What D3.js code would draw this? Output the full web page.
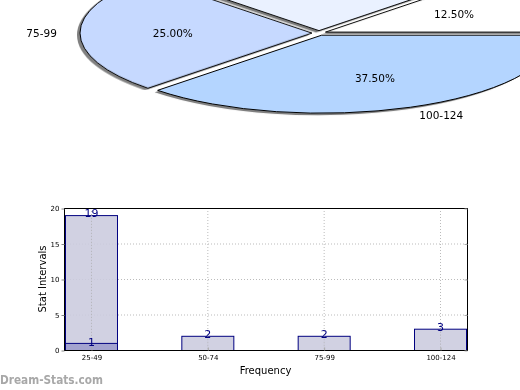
<!DOCTYPE html>
<html>
<head>
<meta charset="utf-8">
<script src="https://cdn.jsdelivr.net/npm/d3@7"></script>
<style>
html,body{margin:0;padding:0;background:#fff;}
svg{display:block;font-family:"DejaVu Sans",sans-serif;}
</style>
</head>
<body>
<svg id="chart" width="520" height="390"></svg>
<script>
// ---- data ----
const categories = ["25-49", "50-74", "75-99", "100-124"];
const pieValues = [1, 2, 2, 3];
const pieColors = ["#ffffff", "#eaf1ff", "#c6d9ff", "#b4d5ff"];
const barValues = [19, 2, 2, 3];
const overlayValues = [1, null, null, null];
const yTicks = [0, 5, 10, 15, 20];
const xTitle = "Frequency";
const yTitle = "Stat Intervals";
const watermark = "Dream-Stats.com";

const svg = d3.select("#chart");

// ---- pie (elliptical, exploded) ----
const cx = 319, cy = 33, rx = 232, ry = 78, explode = 7;
const pie = d3.pie().sort(null).startAngle(Math.PI / 2).endAngle(Math.PI / 2 - 2 * Math.PI);
const arcs = pie(pieValues);
const arc = d3.arc().innerRadius(0).outerRadius(rx);
const total = d3.sum(pieValues);

const defs = svg.append("defs");
defs.append("filter").attr("id", "blur").append("feGaussianBlur").attr("stdDeviation", 0.6);

function sliceOffset(d) {
  const m = (d.startAngle + d.endAngle) / 2;
  return [explode * Math.sin(m), -explode * Math.cos(m)];
}

// shadows
const shadowG = svg.append("g")
  .attr("transform", `translate(${cx - 3},${cy + 2}) scale(1,${ry / rx})`)
  .attr("filter", "url(#blur)");
shadowG.selectAll("path").data(arcs).join("path")
  .attr("transform", d => `translate(${sliceOffset(d)})`)
  .attr("d", arc)
  .attr("fill", "#808080");

const pieG = svg.append("g")
  .attr("transform", `translate(${cx},${cy}) scale(1,${ry / rx})`);
pieG.selectAll("path").data(arcs).join("path")
  .attr("transform", d => `translate(${sliceOffset(d)})`)
  .attr("d", arc)
  .attr("fill", (d, i) => pieColors[i])
  .attr("stroke", "#000")
  .attr("stroke-width", 1)
  .attr("vector-effect", "non-scaling-stroke");

// labels (those falling above the visible area are not drawn, as in the source)
const labG = svg.append("g").attr("font-size", 10.5).attr("fill", "#000");
arcs.forEach((d, i) => {
  const m = (d.startAngle + d.endAngle) / 2;
  const s = Math.sin(m), c = Math.cos(m);
  const [ox, oy] = sliceOffset(d);
  const oyS = oy * ry / rx;
  const px = cx + ox + 0.6 * rx * s, py = cy + oyS - 0.6 * ry * c;
  if (py > 6) {
    labG.append("text")
      .attr("x", px).attr("y", py)
      .attr("text-anchor", "middle")
      .attr("dominant-baseline", "central")
      .text((100 * d.value / total).toFixed(2) + "%");
  }
  const lx = cx + 1.13 * rx * s, ly = cy - 1.14 * ry * c;
  if (ly > 6) {
    labG.append("text")
      .attr("x", lx).attr("y", ly)
      .attr("text-anchor", s >= 0 ? "start" : "end")
      .attr("dominant-baseline", "central")
      .text(categories[i]);
  }
});

// ---- bar chart ----
const L = 64, R = 467, T = 208, B = 350;
const x = d3.scalePoint().domain(categories).range([L, R]).padding(0.232);
const y = d3.scaleLinear().domain([0, 20]).range([B, T]);
const bw = 52;

const gridG = svg.append("g").attr("stroke", "#bbbbbb").attr("stroke-dasharray", "1,2").attr("stroke-width", 1);
yTicks.forEach(t => gridG.append("line").attr("x1", L).attr("x2", R).attr("y1", y(t) + 0.5).attr("y2", y(t) + 0.5));
categories.forEach(c => gridG.append("line").attr("x1", x(c) + 0.5).attr("x2", x(c) + 0.5).attr("y1", T).attr("y2", B));

const barG = svg.append("g");
barG.selectAll("rect.main").data(barValues).join("rect")
  .attr("class", "main")
  .attr("x", (d, i) => x(categories[i]) - bw / 2 + 0.5)
  .attr("y", d => y(d) + 0.5)
  .attr("width", bw)
  .attr("height", d => y(0) - y(d))
  .attr("fill", "#ccccdf").attr("fill-opacity", 0.9)
  .attr("stroke", "#000080").attr("stroke-width", 1);
const ov = overlayValues.map((v, i) => ({v, i})).filter(d => d.v != null);
barG.selectAll("rect.ov").data(ov).join("rect")
  .attr("class", "ov")
  .attr("x", d => x(categories[d.i]) - bw / 2 + 0.5)
  .attr("y", d => y(d.v) + 0.5)
  .attr("width", bw)
  .attr("height", d => y(0) - y(d.v))
  .attr("fill", "#a3a3cf")
  .attr("stroke", "#000080").attr("stroke-width", 1);

const gridG2 = svg.append("g").attr("stroke", "#aaaaaa").attr("stroke-dasharray", "1,2").attr("stroke-opacity", 0.7);
categories.forEach((c, i) => gridG2.append("line").attr("x1", x(c) + 0.5).attr("x2", x(c) + 0.5).attr("y1", y(barValues[i])).attr("y2", B));

const valG = svg.append("g").attr("font-size", 11).attr("fill", "#000080").attr("text-anchor", "middle");
barValues.forEach((v, i) => valG.append("text").attr("x", x(categories[i]) + 0.5).attr("y", y(v) + 2).text(v));
ov.forEach(d => valG.append("text").attr("x", x(categories[d.i]) + 0.5).attr("y", y(d.v) + 3).text(d.v));

// frame
svg.append("rect").attr("x", L + 0.5).attr("y", T + 0.5).attr("width", R - L).attr("height", B - T)
  .attr("fill", "none").attr("stroke", "#000").attr("stroke-width", 1);

// axes
const yAxis = d3.axisLeft(y).tickValues(yTicks).tickSize(3).tickPadding(2);
const ya = svg.append("g").attr("transform", `translate(${L + 0.5},0.5)`).call(yAxis);
ya.select(".domain").remove();
ya.selectAll("text").attr("font-size", 7).attr("font-family", "DejaVu Sans").attr("fill", "#000");
ya.selectAll("line").attr("stroke", "#888");

const yAxisR = d3.axisLeft(y).tickValues(yTicks).tickSize(3).tickFormat("");
const yr = svg.append("g").attr("transform", `translate(${R + 0.5},0.5)`).call(yAxisR);
yr.select(".domain").remove();
yr.selectAll("line").attr("stroke", "#aaa");

const xAxis = d3.axisTop(x).tickSize(3).tickPadding(-12);
const xa = svg.append("g").attr("transform", `translate(0.5,${B + 0.5})`).call(xAxis);
xa.select(".domain").remove();
xa.selectAll("line").attr("stroke", "#aaa");
xa.selectAll("text").attr("font-size", 7).attr("font-family", "DejaVu Sans").attr("fill", "#000");

svg.append("text").attr("x", (L + R) / 2).attr("y", 374).attr("text-anchor", "middle")
  .attr("font-size", 10).text(xTitle);
svg.append("text").attr("transform", `translate(46,${(T + B) / 2}) rotate(-90)`).attr("text-anchor", "middle")
  .attr("font-size", 10).text(yTitle);

svg.append("text").attr("x", 0).attr("y", 384).attr("font-size", 11.5).attr("font-weight", "bold")
  .attr("fill", "#a8a8a8").attr("textLength", 103).attr("lengthAdjust", "spacingAndGlyphs").text(watermark);
</script>
</body>
</html>
